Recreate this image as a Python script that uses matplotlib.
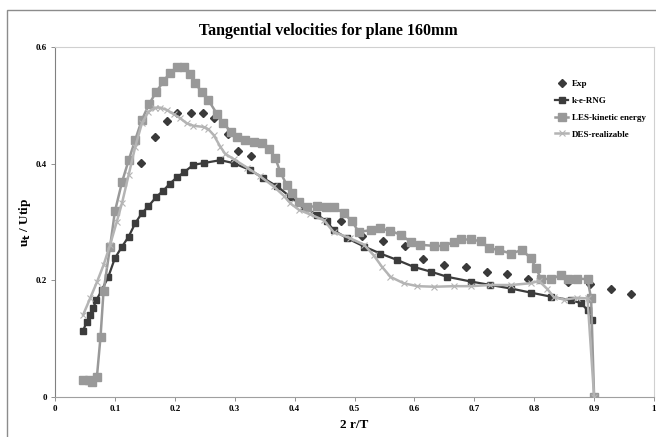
import matplotlib
matplotlib.use("Agg")
import matplotlib.pyplot as plt
from matplotlib.patches import Rectangle

# ---- data ----
exp_x = [0.144, 0.167, 0.187, 0.204, 0.227, 0.247, 0.266, 0.288, 0.306, 0.328,
         0.477, 0.512, 0.548, 0.584, 0.615, 0.650, 0.686, 0.721, 0.754, 0.789,
         0.856, 0.893, 0.928, 0.962]
exp_y = [0.401, 0.446, 0.473, 0.487, 0.487, 0.487, 0.479, 0.451, 0.422, 0.413,
         0.302, 0.276, 0.267, 0.259, 0.237, 0.226, 0.223, 0.214, 0.211, 0.203,
         0.197, 0.194, 0.185, 0.176]

ke_x = [0.047, 0.053, 0.059, 0.064, 0.069, 0.078, 0.089, 0.100, 0.112, 0.123,
        0.134, 0.145, 0.156, 0.169, 0.181, 0.192, 0.204, 0.215, 0.231, 0.248,
        0.276, 0.298, 0.326, 0.348, 0.371, 0.393, 0.415, 0.438, 0.454, 0.465,
        0.488, 0.516, 0.543, 0.571, 0.599, 0.627, 0.655, 0.694, 0.727, 0.761,
        0.794, 0.828, 0.861, 0.878, 0.889, 0.896]
ke_y = [0.114, 0.129, 0.141, 0.153, 0.166, 0.183, 0.206, 0.238, 0.258, 0.275,
        0.298, 0.315, 0.327, 0.343, 0.354, 0.366, 0.377, 0.385, 0.398, 0.401,
        0.406, 0.401, 0.389, 0.375, 0.361, 0.343, 0.326, 0.312, 0.301, 0.286,
        0.272, 0.258, 0.246, 0.235, 0.223, 0.215, 0.206, 0.198, 0.192, 0.186,
        0.179, 0.172, 0.166, 0.161, 0.149, 0.132]

les_x = [0.047, 0.056, 0.061, 0.070, 0.076, 0.081, 0.092, 0.100, 0.112, 0.123,
         0.134, 0.145, 0.157, 0.169, 0.181, 0.192, 0.204, 0.216, 0.226, 0.234,
         0.245, 0.256, 0.270, 0.281, 0.293, 0.304, 0.318, 0.332, 0.346, 0.357,
         0.368, 0.376, 0.387, 0.396, 0.407, 0.421, 0.438, 0.452, 0.465, 0.482,
         0.496, 0.507, 0.527, 0.543, 0.560, 0.577, 0.594, 0.610, 0.633, 0.649,
         0.666, 0.677, 0.694, 0.711, 0.725, 0.741, 0.761, 0.780, 0.794, 0.803,
         0.811, 0.828, 0.844, 0.856, 0.872, 0.889, 0.895, 0.900]
les_y = [0.030, 0.029, 0.025, 0.035, 0.103, 0.181, 0.258, 0.318, 0.369, 0.406,
         0.441, 0.475, 0.502, 0.523, 0.541, 0.556, 0.565, 0.565, 0.554, 0.538,
         0.523, 0.509, 0.486, 0.470, 0.455, 0.446, 0.441, 0.437, 0.435, 0.426,
         0.409, 0.386, 0.363, 0.349, 0.335, 0.326, 0.327, 0.326, 0.326, 0.315,
         0.301, 0.283, 0.286, 0.289, 0.285, 0.278, 0.266, 0.261, 0.259, 0.259,
         0.266, 0.270, 0.270, 0.267, 0.255, 0.252, 0.246, 0.252, 0.238, 0.221,
         0.203, 0.202, 0.209, 0.203, 0.203, 0.202, 0.169, 0.000]

des_x = [0.047, 0.059, 0.070, 0.081, 0.092, 0.103, 0.112, 0.123, 0.134, 0.145,
         0.156, 0.167, 0.176, 0.187, 0.198, 0.209, 0.220, 0.231, 0.248, 0.256,
         0.265, 0.276, 0.284, 0.298, 0.321, 0.343, 0.365, 0.382, 0.393, 0.407,
         0.426, 0.449, 0.465, 0.493, 0.516, 0.532, 0.546, 0.560, 0.582, 0.605,
         0.633, 0.666, 0.694, 0.727, 0.761, 0.794, 0.808, 0.822, 0.833, 0.850,
         0.872, 0.889, 0.900]
des_y = [0.141, 0.170, 0.197, 0.226, 0.261, 0.300, 0.333, 0.381, 0.429, 0.469,
         0.489, 0.496, 0.496, 0.492, 0.485, 0.478, 0.469, 0.465, 0.463, 0.459,
         0.449, 0.429, 0.417, 0.408, 0.393, 0.378, 0.361, 0.345, 0.332, 0.321,
         0.313, 0.303, 0.283, 0.272, 0.261, 0.243, 0.223, 0.206, 0.195, 0.190,
         0.189, 0.190, 0.190, 0.192, 0.192, 0.195, 0.199, 0.185, 0.171, 0.167,
         0.170, 0.169, 0.000]

labels = ["Exp", "k-e-RNG", "LES-kinetic energy", "DES-realizable"]
xticks = [0, 0.1, 0.2, 0.3, 0.4, 0.5, 0.6, 0.7, 0.8, 0.9, 1]
xtick_labels = ["0", "0.1", "0.2", "0.3", "0.4", "0.5", "0.6", "0.7", "0.8", "0.9", "1"]
yticks = [0, 0.2, 0.4, 0.6]
ytick_labels = ["0", "0.2", "0.4", "0.6"]

plt.rcParams['font.family'] = ['Liberation Serif', 'DejaVu Serif']
plt.rcParams['font.weight'] = 'bold'

fig = plt.figure(figsize=(6.56, 4.37), dpi=100)
fig.patches.append(Rectangle((7/656, -0.1), 1.2, 1 - 10/437 + 0.1,
                             transform=fig.transFigure, fill=False,
                             edgecolor='#8c8c8c', linewidth=1.0))

ax = fig.add_axes([55/656, 1 - 397/437, 599/656, 350/437])

ax.plot(exp_x, exp_y, linestyle='none', marker='D', markersize=4.2,
        color='#3a3a3a', label=labels[0], zorder=2)
ax.plot(ke_x, ke_y, '-', marker='s', markersize=5, color='#3c3c3c',
        linewidth=1.6, label=labels[1], zorder=3)
ax.plot(les_x, les_y, '-', marker='s', markersize=5.8, color='#999999',
        linewidth=1.8, label=labels[2], zorder=4)
ax.plot(des_x, des_y, '-', marker='x', markersize=4, markeredgewidth=0.8,
        color='#b4b4b4', linewidth=1.8, label=labels[3], zorder=5)

ax.set_xlim(0, 1)
ax.set_ylim(0, 0.6)
ax.set_xticks(xticks)
ax.set_xticklabels(xtick_labels, fontsize=6.5, fontweight='bold')
ax.set_yticks(yticks)
ax.set_yticklabels(ytick_labels, fontsize=6.5, fontweight='bold')
ax.tick_params(axis='both', length=3, width=0.6, color='#808080', pad=3)

for side in ['top', 'right']:
    ax.spines[side].set_color('#d0d0d0')
    ax.spines[side].set_linewidth(0.8)
ax.spines['left'].set_color('#808080')
ax.spines['bottom'].set_color('#a0a0a0')

ax.set_xlabel("2 r/T", fontsize=9.5, fontweight='bold', labelpad=4)
ax.set_ylabel("u$_\\mathbf{t}$ / Utip", fontsize=9.5, fontweight='bold', labelpad=2)
fig.text(0.5, 1 - 31/437, "Tangential velocities for plane 160mm",
         ha='center', va='center', fontsize=11.5, fontweight='bold')

leg = ax.legend(loc='upper right', bbox_to_anchor=(1.0, 0.93), frameon=False,
                handlelength=1.5, handletextpad=0.4, labelspacing=0.95,
                prop={'weight': 'bold', 'size': 6.5})

fig.savefig("out.png", dpi=100)
